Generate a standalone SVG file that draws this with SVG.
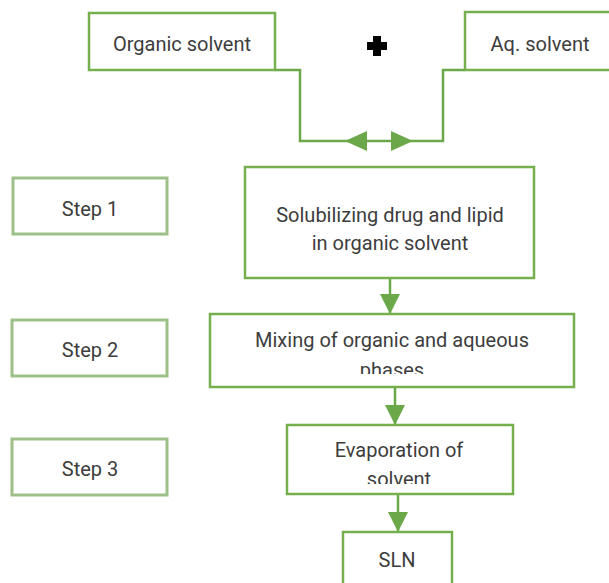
<svg xmlns="http://www.w3.org/2000/svg" width="609" height="583" viewBox="0 0 609 583">
  <style>
    .box { fill: #ffffff; stroke: #76b04e; stroke-width: 2.5; }
    .step { fill: #ffffff; stroke: #9dc088; stroke-width: 3; }
    .lbl { font-family: Roboto, "Liberation Sans", sans-serif; font-size: 20px; fill: #3d3d3d; text-anchor: middle; }
    .wire { fill: none; stroke: #6aa84a; stroke-width: 2.5; }
    .head { fill: #6aa84a; }
  </style>
  <defs>
    <marker id="arrow" viewBox="0 0 20 20" refX="20" refY="10" markerWidth="20" markerHeight="20" markerUnits="userSpaceOnUse" orient="auto">
      <path class="head" d="M0,0 L20,10 L0,20 Z"/>
    </marker>
    <!-- text areas that cut off overflowing second lines -->
    <clipPath id="clipMix"><rect x="210" y="314" width="364" height="60"/></clipPath>
    <clipPath id="clipEvap"><rect x="287" y="425" width="226" height="59"/></clipPath>
  </defs>

  <rect width="609" height="583" fill="#ffffff"/>

  <!-- connectors -->
  <g id="connectors">
    <path class="wire" d="M275,70 H300 V141 H443 V70 H465"/>
    <path class="head" d="M345,141 L367,131 L367,151 Z"/>
    <path class="head" d="M413,141 L391,131 L391,151 Z"/>
    <path class="wire" d="M390,278 V314" marker-end="url(#arrow)"/>
    <path class="wire" d="M395,387 V425" marker-end="url(#arrow)"/>
    <path class="wire" d="M398,494 V532" marker-end="url(#arrow)"/>
  </g>

  <!-- plus sign between the two solvents -->
  <path id="plus" d="M373,36 H381 V42 H387 V50 H381 V56 H373 V50 H367 V42 H373 Z" fill="#000000"/>

  <g id="organic-solvent">
    <rect class="box" x="89" y="13" width="186" height="57"/>
    <text class="lbl" x="182" y="51">Organic solvent</text>
  </g>

  <g id="aq-solvent">
    <rect class="box" x="465" y="12" width="146" height="58"/>
    <text class="lbl" x="540" y="51">Aq. solvent</text>
  </g>

  <g id="step1">
    <rect class="step" x="13" y="178" width="154" height="56"/>
    <text class="lbl" x="90" y="216">Step 1</text>
  </g>

  <g id="step2">
    <rect class="step" x="12" y="320" width="155" height="56"/>
    <text class="lbl" x="90" y="357">Step 2</text>
  </g>

  <g id="step3">
    <rect class="step" x="12" y="439" width="155" height="56"/>
    <text class="lbl" x="90" y="476">Step 3</text>
  </g>

  <g id="solubilize">
    <rect class="box" x="245" y="167" width="289" height="111"/>
    <text class="lbl" x="390" y="222">Solubilizing drug and lipid</text>
    <text class="lbl" x="390" y="250">in organic solvent</text>
  </g>

  <g id="mixing">
    <rect class="box" x="210" y="314" width="364" height="73"/>
    <g clip-path="url(#clipMix)">
      <text class="lbl" x="392" y="347">Mixing of organic and aqueous</text>
      <text class="lbl" x="392" y="377">phases</text>
    </g>
  </g>

  <g id="evaporation">
    <rect class="box" x="287" y="425" width="226" height="69"/>
    <g clip-path="url(#clipEvap)">
      <text class="lbl" x="399" y="457">Evaporation of</text>
      <text class="lbl" x="399" y="486">solvent</text>
    </g>
  </g>

  <g id="sln">
    <rect class="box" x="343" y="532" width="109" height="60"/>
    <text class="lbl" x="397" y="567">SLN</text>
  </g>
</svg>
